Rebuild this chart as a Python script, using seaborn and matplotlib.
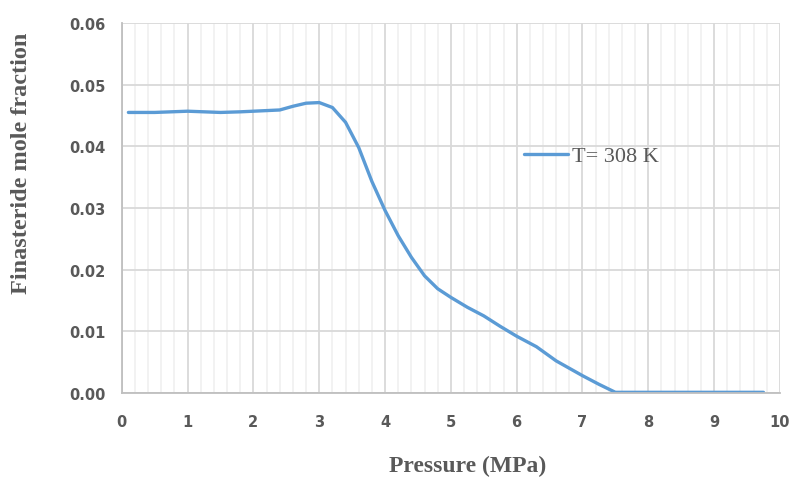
import numpy as np
import pandas as pd
import seaborn as sns
import matplotlib.pyplot as plt
from matplotlib.ticker import MultipleLocator, FormatStrFormatter

# values
pressure = [0.1, 0.5, 1.0, 1.5, 1.8, 2.0, 2.4, 2.6, 2.8, 3.0, 3.2, 3.4, 3.6, 3.8,
            4.0, 4.2, 4.4, 4.6, 4.8, 5.0, 5.25, 5.5, 5.75, 6.0, 6.3, 6.6, 7.0,
            7.25, 7.5, 8.0, 9.0, 9.75]
mole_fraction = [0.0455, 0.0455, 0.0457, 0.0455, 0.0456, 0.0457, 0.0459, 0.0465,
                 0.0470, 0.0471, 0.0463, 0.0439, 0.0398, 0.0343, 0.0296, 0.0255,
                 0.0220, 0.0190, 0.0169, 0.0155, 0.0139, 0.0125, 0.0108, 0.0092,
                 0.0075, 0.0052, 0.0028, 0.0014, 0.0001, 0.0001, 0.0001, 0.0001]
series_label = "T= 308 K"

df = pd.DataFrame({"Pressure": pressure, "Fraction": mole_fraction})
df["Series"] = series_label

sns.set_style("white")
plt.rcParams['font.family'] = ['DejaVu Sans']

fig = plt.figure(figsize=(7.91, 4.81), dpi=100)
ax = fig.add_axes([0.154, 0.181, 0.832, 0.769])

sns.lineplot(data=df, x="Pressure", y="Fraction", hue="Series",
             palette=["#5b9bd5"], linewidth=2.4, ax=ax)
ax.lines[0].set_solid_joinstyle('round')

ax.set_xlim(0, 10)
ax.set_ylim(0, 0.06)
ax.xaxis.set_major_locator(MultipleLocator(1))
ax.xaxis.set_minor_locator(MultipleLocator(0.2))
ax.yaxis.set_major_locator(MultipleLocator(0.01))
ax.yaxis.set_major_formatter(FormatStrFormatter('%.2f'))

ax.grid(True, which='major', axis='both', color='#d9d9d9', linewidth=1.3)
ax.grid(True, which='minor', axis='x', color='#f0f0f0', linewidth=1.2)
ax.set_axisbelow(True)

for side in ['top', 'right']:
    ax.spines[side].set_visible(False)
for side in ['left', 'bottom']:
    ax.spines[side].set_color('#bfbfbf')
    ax.spines[side].set_linewidth(1.3)

ax.tick_params(axis='both', which='both', length=0,
               labelsize=10.5, labelcolor='#595959')
ax.tick_params(axis='x', pad=15)
ax.tick_params(axis='y', pad=12)
for lbl in ax.get_xticklabels() + ax.get_yticklabels():
    lbl.set_fontweight('bold')

ax.set_xlabel("Pressure (MPa)", family='Liberation Serif', fontweight='bold',
              fontsize=17, color='#595959', va='center')
ax.set_ylabel("Finasteride mole fraction", family='Liberation Serif',
              fontweight='bold', fontsize=17.5, color='#595959', va='center')
ax.xaxis.set_label_coords(0.525, -0.197)
ax.yaxis.set_label_coords(-0.152, 0.624)

leg = ax.legend(loc='center left', bbox_to_anchor=(0.597, 0.64), frameon=False,
                handlelength=2.0, handletextpad=0.2, borderaxespad=0,
                prop={'family': 'Liberation Serif', 'size': 16})
for t in leg.get_texts():
    t.set_color('#595959')

fig.savefig("out.png", dpi=100)
